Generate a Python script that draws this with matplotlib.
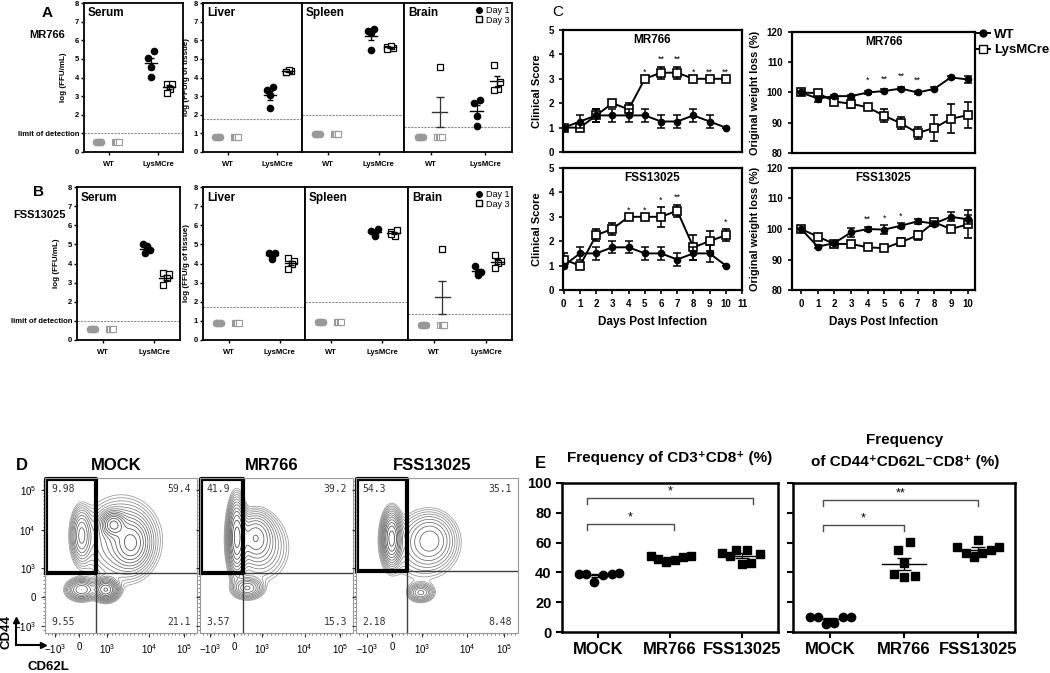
import numpy as np
import matplotlib
matplotlib.use('Agg')
import matplotlib.pyplot as plt
from matplotlib.lines import Line2D

plt.rcParams['font.family'] = ['Liberation Sans', 'DejaVu Sans']
plt.rcParams['mathtext.fontset'] = 'custom'
plt.rcParams['mathtext.rm'] = 'Liberation Sans'
plt.rcParams['mathtext.bf'] = 'Liberation Sans:bold'

# ---------------- A / B : viral titres ----------------
organs = ['Serum', 'Liver', 'Spleen', 'Brain']
groups = ['WT', 'LysMCre']

lod_a = [1.0, 1.75, 1.97, 1.36]
wt_a = [0.55, 0.82, 0.98, 0.80]
lys_d1_a = [[5.06, 5.42, 4.55, 4.05], [3.31, 3.47, 3.08, 2.36],
            [6.48, 6.58, 6.40, 5.50], [2.65, 2.81, 1.93, 1.38]]
lys_d3_a = [[3.67, 3.67, 3.40, 3.18], [4.29, 4.35, 4.42, 4.30],
            [5.63, 5.58, 5.69, 5.55], [4.69, 3.76, 3.40, 3.31]]
brain_wt_d3_a = 4.56

lod_b = [1.0, 1.72, 1.98, 1.38]
wt_b = [0.57, 0.91, 0.95, 0.81]
lys_d1_b = [[5.00, 4.68, 4.77, 4.94, 4.53], [4.56, 4.56, 4.25, 4.40],
            [5.71, 5.80, 5.46, 5.60], [3.87, 3.56, 3.41, 3.58]]
lys_d3_b = [[3.48, 3.44, 3.22, 2.87], [4.27, 4.13, 4.00, 3.70],
            [5.65, 5.73, 5.46, 5.56], [4.44, 4.13, 4.04, 3.79]]
brain_wt_d3_b = 4.77

# ---------------- C : time courses ----------------
days = list(range(11))
cs_mr_wt = [1, 1.25, 1.5, 1.5, 1.5, 1.5, 1.25, 1.25, 1.5, 1.25, 1.0]
cs_mr_wt_err = [0, 0.25, 0.25, 0.25, 0.25, 0.25, 0.25, 0.25, 0.25, 0.25, 0]
cs_mr_lys = [1, 1, 1.5, 2, 1.75, 3, 3.25, 3.25, 3, 3, 3]
cs_mr_lys_err = [0, 0, 0.25, 0, 0.25, 0, 0.25, 0.25, 0, 0, 0]
cs_mr_stars = ['', '', '', '', '', '*', '**', '**', '*', '**', '**']

cs_fss_wt = [1, 1.5, 1.5, 1.75, 1.75, 1.5, 1.5, 1.25, 1.5, 1.5, 1.0]
cs_fss_wt_err = [0, 0.25, 0.25, 0.25, 0.25, 0.25, 0.25, 0.25, 0.25, 0.35, 0]
cs_fss_lys = [1.25, 1, 2.25, 2.5, 3, 3, 3, 3.25, 1.75, 2, 2.25]
cs_fss_lys_err = [0.25, 0, 0.25, 0.25, 0, 0, 0.4, 0.25, 0.5, 0.4, 0.25]
cs_fss_stars = ['', '', '', '', '*', '*', '*', '**', '', '', '*']

wl_mr_wt = [100, 98, 98.8, 98.8, 100, 100.5, 101.3, 100, 101.2, 105, 104.3]
wl_mr_wt_err = [0, 1, 0.5, 0.5, 0.5, 0.5, 0.5, 0.5, 0.5, 0.5, 1]
wl_mr_lys = [100, 99.8, 97, 96.3, 95.1, 92.3, 89.8, 86.6, 88.3, 91.3, 92.5]
wl_mr_lys_err = [0, 0.5, 0.7, 1.3, 1, 2.2, 2, 2, 4.4, 4.8, 4.4]
wl_mr_stars = ['', '', '', '', '*', '**', '**', '**', '', '', '']

wl_fss_wt = [100, 94.2, 95.4, 98.9, 100, 99.8, 101.1, 102.5, 101.8, 104, 103.2]
wl_fss_wt_err = [0, 0.5, 0.5, 1.5, 0.8, 1.5, 0.8, 0.8, 0.8, 1.5, 1.5]
wl_fss_lys = [100, 97.5, 95.1, 95.1, 94, 93.7, 95.7, 97.9, 102.2, 100, 101.5]
wl_fss_lys_err = [0, 0.5, 0.5, 1, 0.6, 0.8, 1.2, 1.6, 1, 1, 4.6]
wl_fss_stars = ['', '', '', '', '**', '*', '*', '', '', '', '']

# ---------------- D : flow cytometry ----------------
flow_titles = ['MOCK', 'MR766', 'FSS13025']
quad_pct = [['9.98', '59.4', '9.55', '21.1'],
            ['41.9', '39.2', '3.57', '15.3'],
            ['54.3', '35.1', '2.18', '8.48']]
gate_x = [0.335, 0.28, 0.315]
gate_y = [0.39, 0.39, 0.40]
# populations: centre x, centre y, spread x, spread y, weight (axis fraction)
pops = [
    [[0.24, 0.63, 0.035, 0.09, 0.45], [0.45, 0.70, 0.04, 0.04, 0.9],
     [0.57, 0.58, 0.06, 0.08, 0.6], [0.24, 0.28, 0.05, 0.035, 0.55],
     [0.40, 0.28, 0.04, 0.035, 1.0], [0.50, 0.60, 0.13, 0.14, 0.3]],
    [[0.24, 0.62, 0.03, 0.12, 1.2], [0.36, 0.62, 0.06, 0.08, 0.5],
     [0.31, 0.29, 0.05, 0.035, 0.5], [0.40, 0.55, 0.10, 0.12, 0.2]],
    [[0.22, 0.61, 0.03, 0.085, 1.6], [0.46, 0.60, 0.08, 0.09, 0.45],
     [0.40, 0.26, 0.04, 0.03, 0.5], [0.40, 0.55, 0.13, 0.13, 0.15]],
]
flow_tick_pos_x = [0.066, 0.224, 0.408, 0.684, 0.914]
flow_tick_pos_y = [0.045, 0.232, 0.42, 0.665, 0.923]
flow_tick_lbl = [r'$-10^3$', '0', r'$10^3$', r'$10^4$', r'$10^5$']

# ---------------- E : frequencies ----------------
e_groups = ['MOCK', 'MR766', 'FSS13025']
cd8_mock = [39.0, 39.0, 33.3, 38.5, 39.0, 39.7]
cd8_mr = [51.0, 48.8, 47.2, 48.3, 50.1, 51.2]
cd8_fss = [53.3, 51.0, 55.1, 55.1, 52.4, 45.4, 46.0]
eff_mock = [10.2, 9.75, 5.7, 6.3, 10.4, 10.4]
eff_mr = [55.1, 60.1, 39.2, 37.0, 37.4, 46.0]
eff_fss = [56.9, 61.9, 52.8, 50.6, 53.3, 55.1, 56.9]

W, H = 1050, 673
fig = plt.figure(figsize=(10.5, 6.73), dpi=100)


def ax_px(l, t, r, b):
    return fig.add_axes([l / W, 1 - b / H, (r - l) / W, (b - t) / H])


def ftext(x, y, s, **kw):
    fig.text(x / W, 1 - y / H, s, **kw)


def mean_sem(ax, x, vals, half=0.12, color='k', cap=2.5):
    v = np.asarray(vals, float)
    m = v.mean()
    s = v.std(ddof=1) / np.sqrt(len(v))
    ax.plot([x - half, x + half], [m, m], color=color, lw=1)
    ax.errorbar(x, m, yerr=s, fmt='none', ecolor=color, capsize=cap, lw=0.9)


def titre_row(boxes, lod, wt, d1, d3, brain_pt, ylabels, ylab_x):
    jit = np.array([-0.05, -0.017, 0.017, 0.05])
    j1 = [-0.06, 0.06, 0.0, 0.0, -0.03]
    j3 = [-0.05, 0.06, 0.02, -0.05, 0.0]
    for k, name in enumerate(organs):
        l, t, r, b = boxes[k]
        ax = ax_px(l, t, r, b)
        ax.set_xlim(-0.5, 1.5)
        ax.set_ylim(0, 8)
        for sp in ax.spines.values():
            sp.set_linewidth(1.3)
        ax.axhline(lod[k], color='0.55', ls=(0, (2, 1)), lw=0.8)
        ax.plot(-0.2 + jit, [wt[k]] * 4, 'o', color='0.6', ms=4.5)
        ax.plot(0.16 + jit * 0.8, [wt[k]] * 4, 's', mfc='white', mec='0.6',
                ms=4.3, mew=0.8)
        a = d1[k]
        ax.plot([0.85 + j1[i] for i in range(len(a))], a, 'o', color='k', ms=4.5)
        mean_sem(ax, 0.85, a)
        b3 = d3[k]
        ax.plot([1.22 + j3[i] for i in range(len(b3))], b3, 's', mfc='white',
                mec='k', ms=4.5, mew=0.9)
        mean_sem(ax, 1.22, b3)
        if name == 'Brain':
            ax.plot(0.16, brain_pt, 's', mfc='white', mec='k', ms=4.5, mew=0.9)
            mean_sem(ax, 0.16, [brain_pt, lod[k], lod[k], lod[k]],
                     half=0.14, color='0.2', cap=3)
            ax.legend(handles=[
                Line2D([], [], ls='', marker='o', color='k', ms=4, label='Day 1'),
                Line2D([], [], ls='', marker='s', mfc='white', mec='k', ms=4,
                       label='Day 3')],
                loc='upper right', frameon=False, fontsize=6.5,
                handletextpad=0.1, borderpad=0.1, labelspacing=0.1,
                handlelength=1.2, borderaxespad=0.2)
        ax.text(0.04, 0.97, name, transform=ax.transAxes, ha='left', va='top',
                fontsize=8.5, fontweight='bold')
        ax.set_xticks([0, 1])
        ax.set_xticklabels(groups, fontsize=5.5, fontweight='bold')
        ax.tick_params(axis='x', length=2.5, width=1, pad=4)
        if ylabels[k]:
            ax.set_yticks(range(9))
            lbls = [str(i) for i in range(9)]
            if k == 0:
                lbls[1] = 'limit of detection'
            ax.set_yticklabels(lbls, fontsize=5.5, fontweight='bold')
            ax.tick_params(axis='y', length=2.5, width=1, pad=1)
            ax.set_ylabel(ylabels[k], fontsize=5.8, fontweight='bold')
            ax.yaxis.set_label_coords((ylab_x[k] - l) / (r - l), 0.5)
        else:
            ax.set_yticks([])


titre_row([(84, 3, 183, 152), (203, 3, 302, 152), (302, 3, 404, 152),
           (404, 3, 512, 152)], lod_a, wt_a, lys_d1_a, lys_d3_a, brain_wt_d3_a,
          ['log (FFU/mL)', 'log (FFU/g of tissue)', None, None],
          [67, 190, 0, 0])
titre_row([(77, 187, 180, 340), (203, 187, 305, 340), (305, 187, 408, 340),
           (408, 187, 512, 340)], lod_b, wt_b, lys_d1_b, lys_d3_b, brain_wt_d3_b,
          ['log (FFU/mL)', 'log (FFU/g of tissue)', None, None],
          [60, 190, 0, 0])

ftext(47, 13, 'A', fontsize=11, fontweight='bold', ha='center', va='center')
ftext(47, 35, 'MR766', fontsize=8, fontweight='bold', ha='center', va='center')
ftext(38, 192, 'B', fontsize=11, fontweight='bold', ha='center', va='center')
ftext(39, 215, 'FSS13025', fontsize=8, fontweight='bold', ha='center', va='center')


# ---------------- C ----------------
def course(ax, wt, wt_err, lys, lys_err, stars, title, star_off):
    ax.errorbar(days, wt, yerr=wt_err, fmt='-o', color='k', ms=4.5, lw=1.4,
                capsize=3, elinewidth=1.1, capthick=1.1, zorder=3)
    ax.errorbar(days, lys, yerr=lys_err, fmt='-s', color='k', mfc='white',
                ms=6, mew=1.2, lw=1.4, capsize=3, elinewidth=1.1, capthick=1.1,
                zorder=2)
    for i, s in enumerate(stars):
        if s:
            y = max(wt[i] + wt_err[i], lys[i] + lys_err[i]) + star_off
            ax.text(days[i], y, s, ha='center', va='bottom', fontsize=6.5)
    ax.text(0.5, 0.97, title, transform=ax.transAxes, ha='center', va='top',
            fontsize=8.5, fontweight='bold')
    for sp in ax.spines.values():
        sp.set_linewidth(1.6)
    ax.tick_params(length=3, width=1.2, labelsize=7)


def yticks_bold(ax, vals):
    ax.set_yticks(vals)
    ax.set_yticklabels([str(v) for v in vals], fontweight='bold', fontsize=7)


def xticks_bold(ax, vals):
    ax.set_xticks(vals)
    ax.set_xticklabels([str(v) for v in vals], fontweight='bold', fontsize=7)


ax = ax_px(563, 30, 742, 152)
course(ax, cs_mr_wt, cs_mr_wt_err, cs_mr_lys, cs_mr_lys_err, cs_mr_stars,
       'MR766', 0.1)
ax.set_xlim(-0.05, 11)
ax.set_ylim(0, 5)
ax.set_xticks([])
yticks_bold(ax, list(range(6)))
ax.set_ylabel('Clinical Score', fontsize=8, fontweight='bold', labelpad=5)

ax = ax_px(563, 168, 742, 290)
course(ax, cs_fss_wt, cs_fss_wt_err, cs_fss_lys, cs_fss_lys_err, cs_fss_stars,
       'FSS13025', 0.1)
ax.set_xlim(-0.05, 11)
ax.set_ylim(0, 5)
xticks_bold(ax, list(range(12)))
yticks_bold(ax, list(range(6)))
ax.set_ylabel('Clinical Score', fontsize=8, fontweight='bold', labelpad=5)
ax.set_xlabel('Days Post Infection', fontsize=8.5, fontweight='bold', labelpad=5)

ax = ax_px(792, 32, 975, 153)
course(ax, wl_mr_wt, wl_mr_wt_err, wl_mr_lys, wl_mr_lys_err, wl_mr_stars,
       'MR766', 2.0)
ax.set_xlim(-0.55, 10.45)
ax.set_ylim(80, 120)
ax.set_xticks([])
yticks_bold(ax, [80, 90, 100, 110, 120])
ax.set_ylabel('Original weight loss (%)', fontsize=7.8, fontweight='bold', labelpad=5)
ax.legend(handles=[
    Line2D([], [], color='k', marker='o', ms=5, lw=1.4, label='WT'),
    Line2D([], [], color='k', marker='s', mfc='white', ms=6, lw=1.4,
           label='LysMCre')],
    loc='upper left', bbox_to_anchor=(1.01, 1.03), frameon=False,
    prop={'size': 9.5, 'weight': 'bold'}, handlelength=1.0, handletextpad=0.3,
    labelspacing=0.25, borderpad=0, borderaxespad=0)

ax = ax_px(792, 168, 975, 290)
course(ax, wl_fss_wt, wl_fss_wt_err, wl_fss_lys, wl_fss_lys_err, wl_fss_stars,
       'FSS13025', 0.8)
ax.set_xlim(-0.55, 10.45)
ax.set_ylim(80, 120)
xticks_bold(ax, list(range(11)))
yticks_bold(ax, [80, 90, 100, 110, 120])
ax.set_ylabel('Original weight loss (%)', fontsize=7.8, fontweight='bold', labelpad=5)
ax.set_xlabel('Days Post Infection', fontsize=8.5, fontweight='bold', labelpad=5)

ftext(558, 12, 'C', fontsize=11, ha='center', va='center')

# ---------------- D ----------------
gx, gy = np.meshgrid(np.linspace(0, 1, 240), np.linspace(0, 1, 240))
flow_boxes = [(45, 478, 197, 633), (200, 478, 353, 633), (356, 478, 518, 633)]
for k, box in enumerate(flow_boxes):
    ax = ax_px(*box)
    z = np.zeros_like(gx)
    for cx, cy, sx, sy, w in pops[k]:
        z += w * np.exp(-0.5 * (((gx - cx) / sx) ** 2 + ((gy - cy) / sy) ** 2))
    lv = z.max() * np.geomspace(0.03, 0.85, 13)
    shades = [str(g) for g in np.linspace(0.6, 0.25, len(lv))]
    ax.contour(gx, gy, z, levels=lv, colors=shades, linewidths=0.55)
    ax.set_xlim(0, 1)
    ax.set_ylim(0, 1)
    ax.axvline(gate_x[k], color='0.25', lw=1)
    ax.axhline(gate_y[k], color='0.25', lw=1)
    ax.plot([0.005, gate_x[k], gate_x[k], 0.005, 0.005],
            [gate_y[k], gate_y[k], 0.995, 0.995, gate_y[k]], color='k', lw=3,
            clip_on=False)
    p = quad_pct[k]
    fp = dict(fontsize=7, family='DejaVu Sans Mono', fontweight='normal',
              color='0.2', transform=ax.transAxes)
    ax.text(0.04, 0.96, p[0], ha='left', va='top', **fp)
    ax.text(0.96, 0.96, p[1], ha='right', va='top', **fp)
    ax.text(0.04, 0.04, p[2], ha='left', va='bottom', **fp)
    ax.text(0.96, 0.04, p[3], ha='right', va='bottom', **fp)
    for sp in ax.spines.values():
        sp.set_color('0.6')
        sp.set_linewidth(0.8)
    ax.set_xticks(flow_tick_pos_x)
    ax.set_xticklabels(flow_tick_lbl, fontsize=7, fontweight='normal')
    ax.set_xticks(np.linspace(0.02, 0.98, 40), minor=True)
    ax.set_yticks(flow_tick_pos_y)
    ax.set_yticks(np.linspace(0.02, 0.98, 40), minor=True)
    if k == 0:
        ax.set_yticklabels(flow_tick_lbl, fontsize=7, fontweight='normal')
    else:
        ax.set_yticklabels([])
    ax.tick_params(which='major', length=3, width=0.8, color='0.2')
    ax.tick_params(which='minor', length=1.5, width=0.5, color='0.3')
    ftext((box[0] + box[2]) / 2 - 5, 465, flow_titles[k], fontsize=12,
          fontweight='bold', ha='center', va='center')

ftext(22, 465, 'D', fontsize=12, fontweight='bold', ha='center', va='center')
fig.add_artist(plt.Line2D([16 / W, 16 / W], [1 - 645 / H, 1 - 622 / H],
                          color='k', lw=1.5))
fig.add_artist(plt.Line2D([16 / W, 40 / W], [1 - 645 / H, 1 - 645 / H],
                          color='k', lw=1.5))
fig.add_artist(plt.Line2D([16 / W], [1 - 620 / H], marker='^', color='k', ms=5))
fig.add_artist(plt.Line2D([43 / W], [1 - 645 / H], marker='>', color='k', ms=5))
ftext(6, 632, 'CD44', fontsize=9.5, fontweight='bold', rotation=90,
      ha='center', va='center')
ftext(48, 667, 'CD62L', fontsize=9.5, fontweight='bold', ha='center', va='center')


# ---------------- E ----------------
def freq_panel(ax, data, markers, offs, brackets):
    for i, vals in enumerate(data):
        xs = [i + o for o in offs[i][:len(vals)]]
        ax.plot(xs, vals, markers[i], color='k', ms=6 if markers[i] == 'o' else 5.5)
        mean_sem(ax, i, vals, half=0.3, cap=5)
    for x0, x1, yb, s in brackets:
        ax.plot([x0, x0, x1, x1], [yb - 4, yb, yb, yb - 4], color='0.3', lw=1)
        ax.text((x0 + x1) / 2, yb + 0.5, s, ha='center', va='bottom', fontsize=9)
    ax.set_xlim(-0.5, 2.5)
    ax.set_ylim(0, 100)
    ax.set_xticks(range(3))
    ax.set_xticklabels(e_groups, fontsize=12, fontweight='bold')
    ax.set_yticks(range(0, 101, 20))
    for sp in ax.spines.values():
        sp.set_linewidth(1.8)
    ax.tick_params(length=4, width=1.5)


offs_l = [[-0.27, -0.16, -0.05, 0.07, 0.19, 0.29],
          [-0.27, -0.16, -0.05, 0.07, 0.18, 0.29],
          [-0.28, -0.16, -0.08, 0.07, 0.25, 0.0, 0.12]]
offs_r = [[-0.27, -0.16, -0.05, 0.05, 0.17, 0.28],
          [-0.08, 0.08, -0.14, 0.0, 0.15, 0.0],
          [-0.28, 0.0, -0.16, -0.06, 0.05, 0.17, 0.28]]

ax = ax_px(562, 483, 778, 632)
freq_panel(ax, [cd8_mock, cd8_mr, cd8_fss], ['o', 's', 's'], offs_l,
           [(-0.15, 2.15, 89.6, '*'), (-0.15, 1.05, 72.6, '*')])
ax.set_yticklabels([str(v) for v in range(0, 101, 20)], fontsize=10.5,
                   fontweight='bold')
ax = ax_px(793, 483, 1015, 632)
freq_panel(ax, [eff_mock, eff_mr, eff_fss], ['o', 's', 's'], offs_r,
           [(-0.1, 2.0, 88.7, '**'), (-0.1, 1.0, 71.6, '*')])
ax.set_yticklabels([])

ftext(540, 463, 'E', fontsize=12, fontweight='bold', ha='center', va='center')
ftext(670, 458, 'Frequency of CD3\u207aCD8\u207a (%)', fontsize=11,
      fontweight='bold', ha='center', va='center')
ftext(905, 440, 'Frequency', fontsize=11, fontweight='bold', ha='center',
      va='center')
ftext(905, 462, 'of CD44\u207aCD62L\u207bCD8\u207a (%)', fontsize=11,
      fontweight='bold', ha='center', va='center')

fig.savefig('out.png', dpi=100)
